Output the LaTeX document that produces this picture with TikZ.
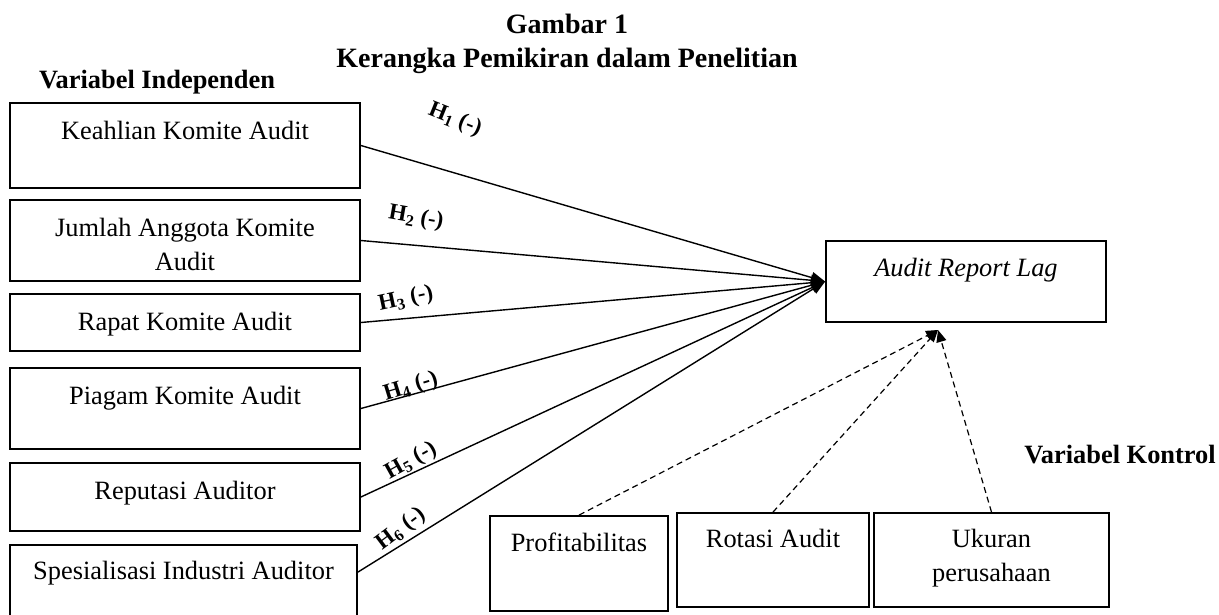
\documentclass[tikz,border=0pt]{standalone}
\usepackage{fontspec}
\setmainfont{Liberation Serif}
\usetikzlibrary{arrows.meta,calc}
\begin{document}
\begin{tikzpicture}[x=1pt,y=-1pt,
 box/.style={draw,line width=1.8pt,inner sep=0pt},
 txt/.style={font=\fontsize{26.4}{34}\selectfont,align=center,inner sep=0pt},
 head/.style={font=\fontsize{26.4}{34}\selectfont\bfseries,inner sep=0pt,anchor=base},
 ttl/.style={font=\fontsize{28}{34}\selectfont\bfseries,inner sep=0pt,anchor=base},
 hlab/.style={font=\fontsize{23}{27}\selectfont\bfseries,inner sep=0pt},
 conn/.style={line width=1.4pt,-{Triangle[length=14pt,width=11pt]}},
 dconn/.style={line width=1.2pt,dash pattern=on 6pt off 4pt,-{Triangle[length=12pt,width=10pt]}}]
\useasboundingbox (0,0) rectangle (1219,614);
% titles
\node[ttl] (g1) at (567,33) {Gambar 1};
\node[ttl] (g2) at (567,67) {Kerangka Pemikiran dalam Penelitian};
\node[head] (vi) at (157,88) {Variabel Independen};
\node[head] (vk) at (1120,463) {Variabel Kontrol};
% independent boxes
\node[box,minimum width=350pt,minimum height=85pt] (b1) at (185,145.5) {};
\node[box,minimum width=350pt,minimum height=81pt] (b2) at (185,240.5) {};
\node[box,minimum width=350pt,minimum height=57pt] (b3) at (185,322.5) {};
\node[box,minimum width=350pt,minimum height=81pt] (b4) at (185,408.5) {};
\node[box,minimum width=350pt,minimum height=68pt] (b5) at (185,497) {};
\node[box,minimum width=347pt,minimum height=80pt] (b6) at (183.5,585) {};
\node[txt,anchor=base] (t1) at ($(b1.north)+(0,37)$) {Keahlian Komite Audit};
\node[txt,anchor=north] (t2) at ($(b2.north)+(0,19)$) {Jumlah Anggota Komite\\Audit};
\node[txt,anchor=base] (t3) at ($(b3.north)+(0,37)$) {Rapat Komite Audit};
\node[txt,anchor=base] (t4) at ($(b4.north)+(0,37)$) {Piagam Komite Audit};
\node[txt,anchor=base] (t5) at ($(b5.north)+(0,37)$) {Reputasi Auditor};
\node[txt,anchor=base] (t6) at ($(b6.north)+(0,35)$) {Spesialisasi Industri Auditor};
% dependent box
\node[box,minimum width=280pt,minimum height=81pt] (arl) at (966,281.5) {};
\node[txt,anchor=base,font=\fontsize{26.4}{34}\selectfont\itshape] (tarl) at ($(arl.north)+(0,36)$) {Audit Report Lag};
% control boxes
\node[box,minimum width=178pt,minimum height=95pt] (p) at (579,563.5) {};
\node[box,minimum width=192pt,minimum height=94pt] (r) at (773,560) {};
\node[box,minimum width=235pt,minimum height=94pt] (u) at (991.5,560) {};
\node[txt,anchor=base] (tp) at ($(p.north)+(0,36)$) {Profitabilitas};
\node[txt,anchor=base] (tr) at ($(r.north)+(0,35)$) {Rotasi Audit};
\node[txt,anchor=north] (tu) at ($(u.north)+(0,17)$) {Ukuran\\perusahaan};
% solid connectors
\coordinate (s6) at ($(b6.north east)+(0,28)$);
\draw[conn] (b1.east) -- (arl.west);
\draw[conn] (b2.east) -- (arl.west);
\draw[conn] (b3.east) -- (arl.west);
\draw[conn] (b4.east) -- (arl.west);
\draw[conn] (b5.east) -- (arl.west);
\draw[conn] (s6) -- (arl.west);
% dashed connectors
\coordinate (ct) at (938,330);
\draw[dconn] (p.north) -- (ct);
\draw[dconn] (r.north) -- (ct);
\draw[dconn] (u.north) -- (ct);
% hypothesis labels
\node[hlab,rotate=-22] (h1) at (455,120) {H\textsubscript{1} (-)};
\node[hlab,rotate=-10] (h2) at (416,218) {H\textsubscript{2} (-)};
\node[hlab,rotate=12] (h3) at (406,299) {H\textsubscript{3} (-)};
\node[hlab,rotate=17] (h4) at (411,387) {H\textsubscript{4} (-)};
\node[hlab,rotate=29] (h5) at (411,461) {H\textsubscript{5} (-)};
\node[hlab,rotate=37] (h6) at (401,529) {H\textsubscript{6} (-)};
\end{tikzpicture}
\end{document}
